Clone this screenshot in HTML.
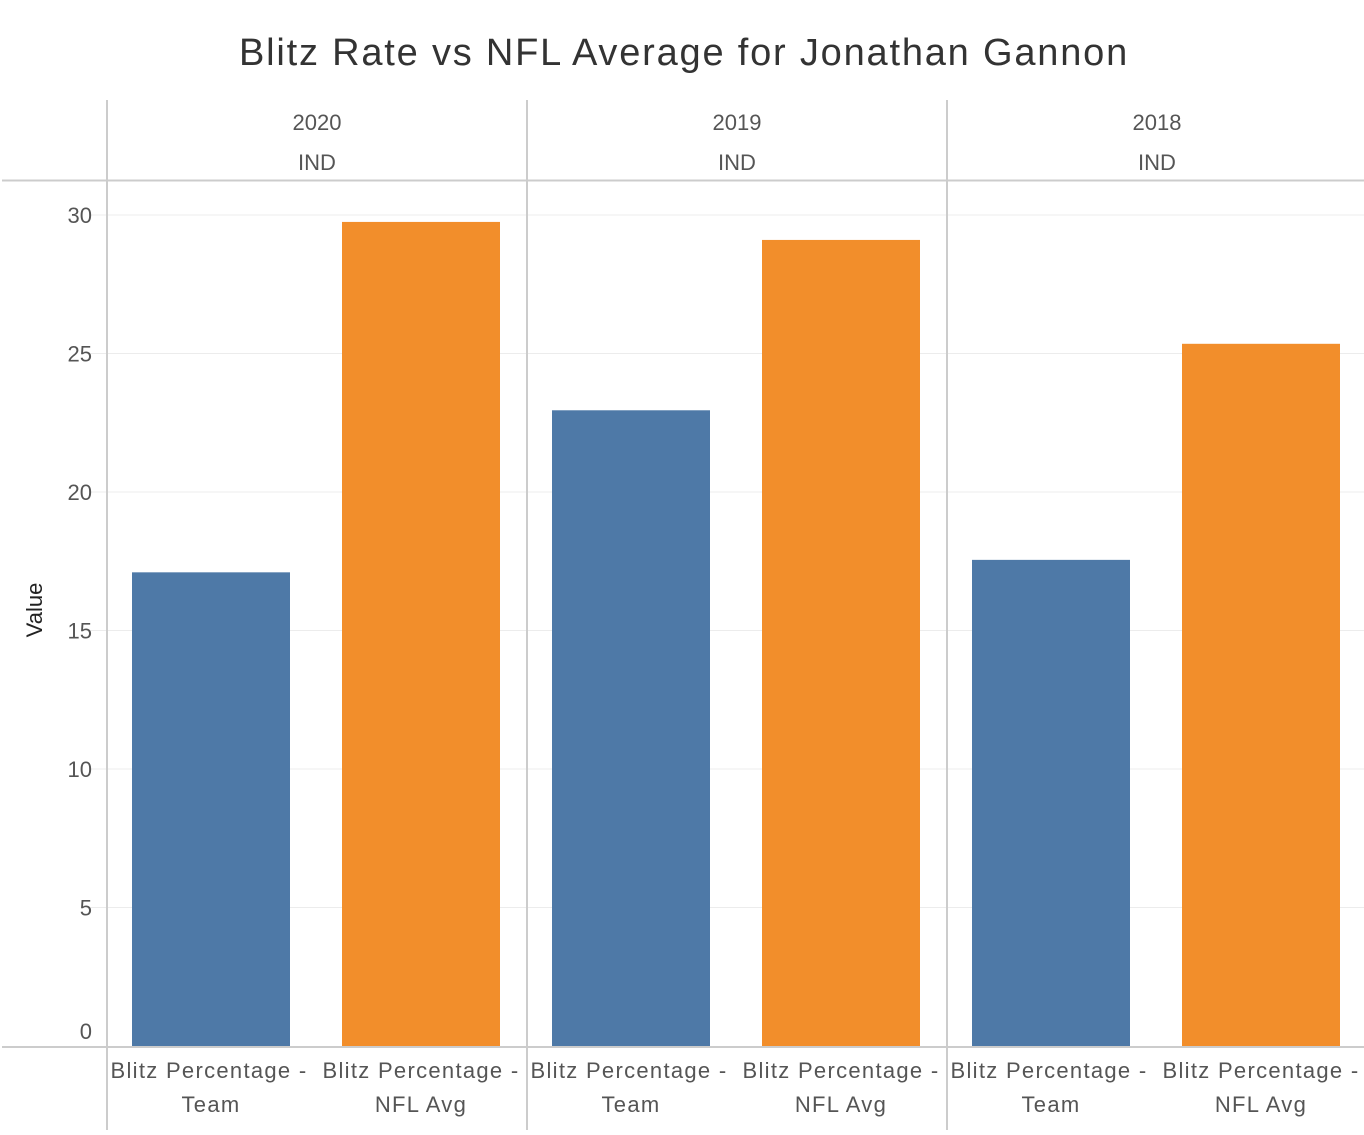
<!DOCTYPE html>
<html><head><meta charset="utf-8"><style>
body{margin:0;background:#fff;}
svg text{font-family:"Liberation Sans",sans-serif;}
</style></head><body>
<svg id="chart" width="1364" height="1130" xmlns="http://www.w3.org/2000/svg">
<text x="684" y="65" text-anchor="middle" font-size="38" letter-spacing="1.8" fill="#333">Blitz Rate vs NFL Average for Jonathan Gannon</text>
<g id="grid"></g>
<g id="bars"></g>
<g id="frame"></g>
</svg>
<script>
const years = ["2020","2019","2018"];
const teams = ["IND","IND","IND"];
const measures = ["Team","NFL Avg"];
const teamValues = [17.1, 22.95, 17.55];
const nflValues = [29.75, 29.1, 25.35];
const yTicks = [0,5,10,15,20,25,30];

const NS="http://www.w3.org/2000/svg";
const svg=document.getElementById('chart');
const grid=document.getElementById('grid'), barsG=document.getElementById('bars'), frame=document.getElementById('frame');
function mk(tag,attrs,parent){const e=document.createElementNS(NS,tag);for(const k in attrs)e.setAttribute(k,attrs[k]);parent.appendChild(e);return e;}
const y0=1046, pxPerUnit=27.7;
const yScale=v=>y0-v*pxPerUnit;
const panelX0=107, panelW=420;
const xPanel=i=>panelX0+i*panelW;

yTicks.forEach(t=>{
  const y=yScale(t);
  if(t>0){const l=mk('line',{x1:90,x2:1364,y1:y,y2:y,stroke:'#ececec','stroke-width':1},grid);
  
  }
  const tx=mk('text',{x:92,y:y+(t===0?-7:8),'text-anchor':'end','font-size':22,fill:'#555'},grid);
  tx.textContent=t;
  
  
});
const yt=mk('text',{x:0,y:0,transform:'translate(42,610) rotate(-90)','text-anchor':'middle','font-size':22,fill:'#222'},grid);
yt.textContent='Value';



years.forEach((yr,i)=>{
  const px=xPanel(i);
  const vals=[teamValues[i],nflValues[i]];
  vals.forEach((v,j)=>{
    const bx=px+25+j*210;
    const r=mk('rect',{x:bx,y:yScale(v),width:158,height:y0-yScale(v),fill:j===0?'#4e79a7':'#f28e2b'},barsG);
    
    
    const cx=bx+79;
    const t1=mk('text',{x:cx+(j===0?-2:0),y:1078,'text-anchor':'middle','font-size':22,'letter-spacing':1.3,fill:'#555'},frame);
    t1.textContent='Blitz Percentage -';
    
    
    const t2=mk('text',{x:cx,y:1112,'text-anchor':'middle','font-size':22,'letter-spacing':1.3,fill:'#555'},frame);
    t2.textContent=measures[j];
    
    
  });
  const h1=mk('text',{x:px+210,y:130,'text-anchor':'middle','font-size':22,fill:'#555'},frame);
  h1.textContent=yr;
  
  
  const h2=mk('text',{x:px+210,y:170,'text-anchor':'middle','font-size':22,fill:'#555'},frame);
  h2.textContent=teams[i];
  
  
  const v=mk('line',{x1:px,x2:px,y1:100,y2:1130,stroke:'#ccc','stroke-width':2},frame);
  
  
});
const hl=mk('line',{x1:2,x2:1364,y1:180.5,y2:180.5,stroke:'#ccc','stroke-width':2},frame);


const ax=mk('line',{x1:2,x2:1364,y1:1047,y2:1047,stroke:'#ccc','stroke-width':2},frame);


</script>
</body></html>
